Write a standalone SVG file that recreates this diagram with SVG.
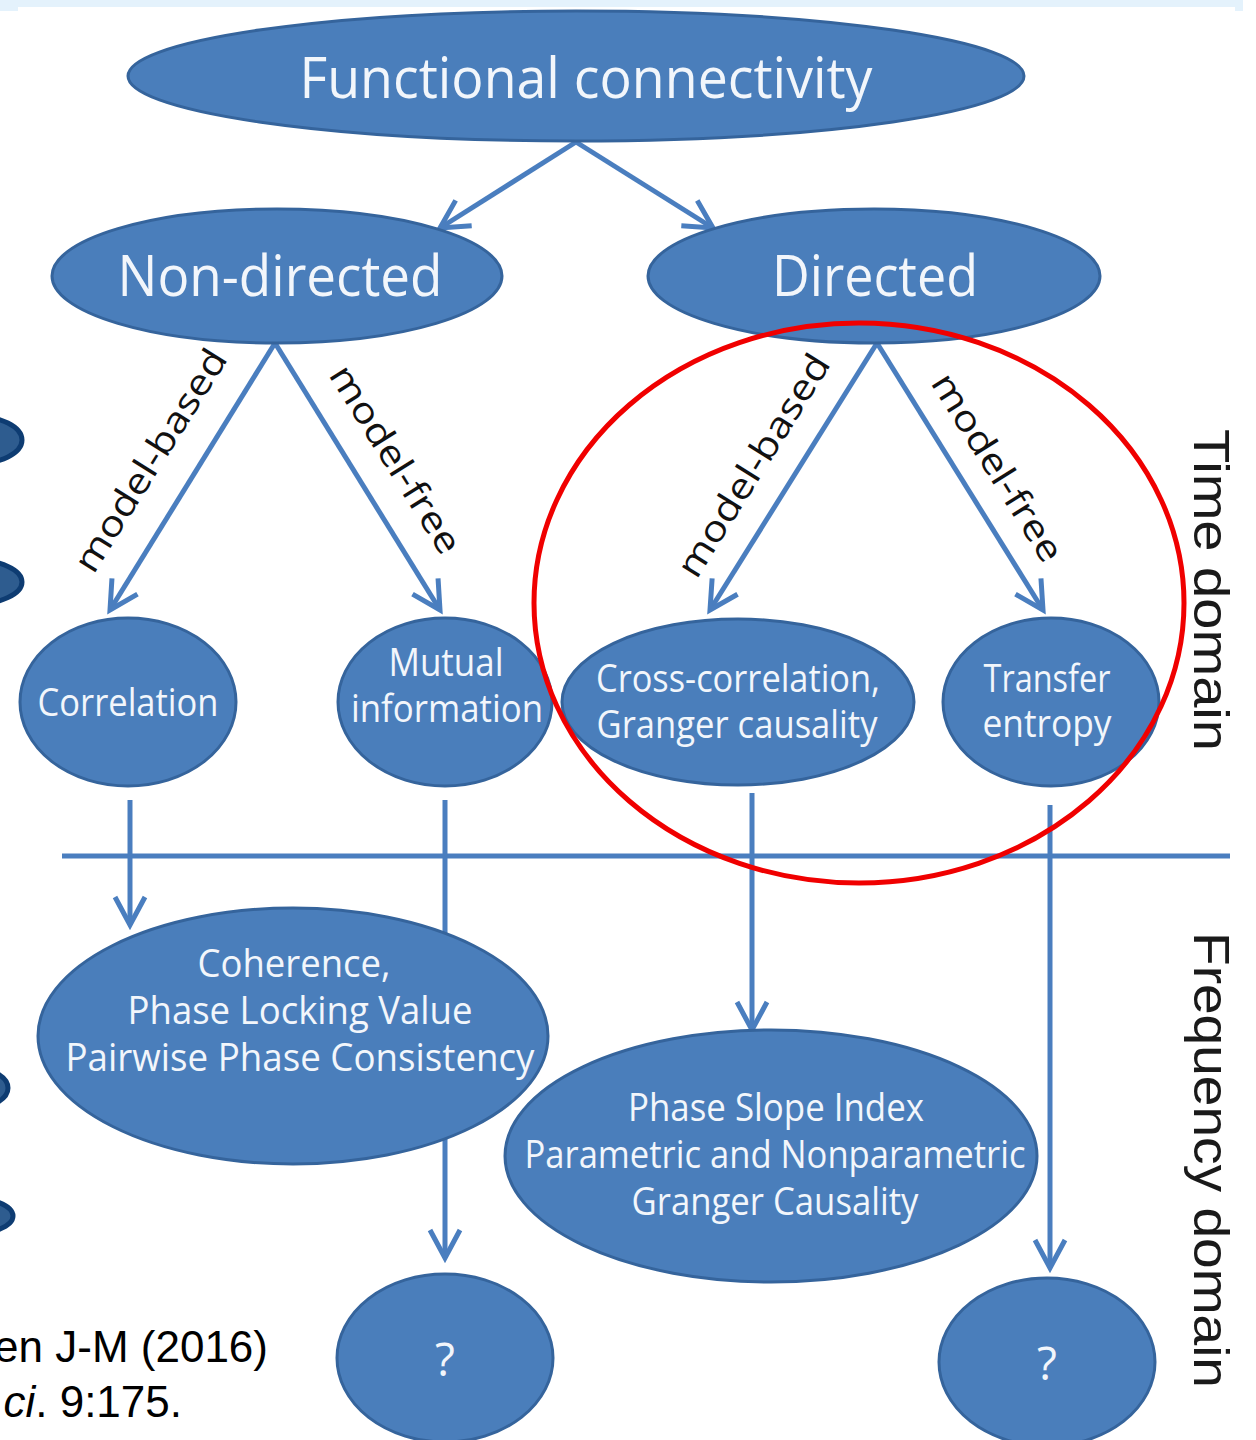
<svg xmlns="http://www.w3.org/2000/svg" width="1256" height="1440" viewBox="0 0 1256 1440">
  <style>
    .node { fill: #4A7EBB; stroke: #35649C; stroke-width: 3; }
    .lbl { font-family: "Open Sans", "Noto Sans", "DejaVu Sans", sans-serif; fill: #F2F6FB; text-anchor: middle; }
    .conn { stroke: #4A7EBF; stroke-width: 5; fill: none; }
    .edge-lbl { font-family: "Open Sans", "Noto Sans", sans-serif; font-size: 36px; fill: #111; text-anchor: middle; }
    .side { font-family: "Liberation Sans", "Arial", sans-serif; font-size: 50px; fill: #1a1a1a; text-anchor: middle; }
    .frag { fill: #2E5C8F; stroke: #0E3C72; stroke-width: 5; }
    .cite { font-family: "Liberation Sans", Arial, sans-serif; font-size: 44px; fill: #000; }
  </style>
  <defs>
    <marker id="arrow" markerUnits="userSpaceOnUse" viewBox="-34 -20 40 40" refX="0" refY="0" markerWidth="40" markerHeight="40" orient="auto">
      <path d="M-28,-15 L0,0 L-28,15" fill="none" stroke="#4A7EBF" stroke-width="5"/>
    </marker>
  </defs>

  <rect x="0" y="0" width="1256" height="1440" fill="#FFFFFF"/>
  <path d="M0,0 H1243 V11 H1235 V7 H18 V11 H0 Z" fill="#E4F2FC"/>

  <g id="left-fragments">
    <ellipse class="frag" cx="-26" cy="440" rx="48" ry="24"/>
    <ellipse class="frag" cx="-26" cy="582" rx="48" ry="22"/>
    <ellipse class="frag" cx="-40" cy="1088" rx="48" ry="23"/>
    <ellipse class="frag" cx="-35" cy="1216" rx="48" ry="19"/>
  </g>

  <g id="connectors">
    <line class="conn" x1="576" y1="142" x2="440" y2="228" marker-end="url(#arrow)"/>
    <line class="conn" x1="576" y1="142" x2="713" y2="228" marker-end="url(#arrow)"/>
    <line class="conn" x1="275" y1="343" x2="110" y2="610" marker-end="url(#arrow)"/>
    <line class="conn" x1="275" y1="343" x2="440" y2="610" marker-end="url(#arrow)"/>
    <line class="conn" x1="877" y1="343" x2="710" y2="610" marker-end="url(#arrow)"/>
    <line class="conn" x1="877" y1="343" x2="1043" y2="610" marker-end="url(#arrow)"/>
    <line class="conn" x1="62" y1="856" x2="1230" y2="856" stroke-width="4"/>
    <line class="conn" x1="130" y1="800" x2="130" y2="925" marker-end="url(#arrow)"/>
    <line class="conn" x1="445" y1="800" x2="445" y2="1258" marker-end="url(#arrow)"/>
    <line class="conn" x1="752" y1="793" x2="752" y2="1030" marker-end="url(#arrow)"/>
    <line class="conn" x1="1050" y1="805" x2="1050" y2="1268" marker-end="url(#arrow)"/>
    <text class="edge-lbl" transform="translate(161,467) rotate(-58)" textLength="255" lengthAdjust="spacingAndGlyphs">model-based</text>
    <text class="edge-lbl" transform="translate(385,466) rotate(58)" textLength="215" lengthAdjust="spacingAndGlyphs">model-free</text>
    <text class="edge-lbl" transform="translate(764,472) rotate(-58)" textLength="255" lengthAdjust="spacingAndGlyphs">model-based</text>
    <text class="edge-lbl" transform="translate(987,474) rotate(58)" textLength="215" lengthAdjust="spacingAndGlyphs">model-free</text>
  </g>

  <g id="functional-connectivity">
    <ellipse class="node" cx="576" cy="76" rx="448" ry="65"/>
    <text class="lbl" x="586" y="98" font-size="56" textLength="573" lengthAdjust="spacingAndGlyphs">Functional connectivity</text>
  </g>
  <g id="non-directed">
    <ellipse class="node" cx="277" cy="276" rx="225" ry="67"/>
    <text class="lbl" x="280" y="296" font-size="56" textLength="325" lengthAdjust="spacingAndGlyphs">Non-directed</text>
  </g>
  <g id="directed">
    <ellipse class="node" cx="874" cy="276" rx="226" ry="67"/>
    <text class="lbl" x="875" y="296" font-size="56" textLength="206" lengthAdjust="spacingAndGlyphs">Directed</text>
  </g>
  <g id="correlation">
    <ellipse class="node" cx="128" cy="702" rx="108" ry="84"/>
    <text class="lbl" x="128" y="716" font-size="38" textLength="181" lengthAdjust="spacingAndGlyphs">Correlation</text>
  </g>
  <g id="mutual-information">
    <ellipse class="node" cx="445" cy="702" rx="107" ry="84"/>
    <text class="lbl" x="446" y="676" font-size="38" textLength="115" lengthAdjust="spacingAndGlyphs">Mutual</text>
    <text class="lbl" x="447" y="722" font-size="38" textLength="192" lengthAdjust="spacingAndGlyphs">information</text>
  </g>
  <g id="cross-correlation">
    <ellipse class="node" cx="738" cy="702" rx="176" ry="83"/>
    <text class="lbl" x="738" y="692" font-size="38" textLength="284" lengthAdjust="spacingAndGlyphs">Cross-correlation,</text>
    <text class="lbl" x="737" y="738" font-size="38" textLength="281" lengthAdjust="spacingAndGlyphs">Granger causality</text>
  </g>
  <g id="transfer-entropy">
    <ellipse class="node" cx="1051" cy="702" rx="108" ry="84"/>
    <text class="lbl" x="1047" y="692" font-size="38" textLength="127" lengthAdjust="spacingAndGlyphs">Transfer</text>
    <text class="lbl" x="1047" y="737" font-size="38" textLength="129" lengthAdjust="spacingAndGlyphs">entropy</text>
  </g>
  <g id="coherence">
    <ellipse class="node" cx="293" cy="1036" rx="255" ry="128"/>
    <text class="lbl" x="294" y="977" font-size="38" textLength="193" lengthAdjust="spacingAndGlyphs">Coherence,</text>
    <text class="lbl" x="300" y="1024" font-size="38" textLength="345" lengthAdjust="spacingAndGlyphs">Phase Locking Value</text>
    <text class="lbl" x="300" y="1071" font-size="38" textLength="469" lengthAdjust="spacingAndGlyphs">Pairwise Phase Consistency</text>
  </g>
  <g id="phase-slope">
    <ellipse class="node" cx="771" cy="1156" rx="266" ry="126"/>
    <text class="lbl" x="776" y="1121" font-size="38" textLength="296" lengthAdjust="spacingAndGlyphs">Phase Slope Index</text>
    <text class="lbl" x="775" y="1168" font-size="38" textLength="501" lengthAdjust="spacingAndGlyphs">Parametric and Nonparametric</text>
    <text class="lbl" x="775" y="1215" font-size="38" textLength="287" lengthAdjust="spacingAndGlyphs">Granger Causality</text>
  </g>
  <g id="unknown-left">
    <ellipse class="node" cx="445" cy="1358" rx="108" ry="84"/>
    <text class="lbl" x="445" y="1376" font-size="46">?</text>
  </g>
  <g id="unknown-right">
    <ellipse class="node" cx="1047" cy="1362" rx="108" ry="84"/>
    <text class="lbl" x="1047" y="1380" font-size="46">?</text>
  </g>

  <g id="side-labels">
    <text class="side" transform="translate(1194,590) rotate(90)" textLength="322" lengthAdjust="spacingAndGlyphs">Time domain</text>
    <text class="side" transform="translate(1194,1160) rotate(90)" textLength="456" lengthAdjust="spacingAndGlyphs">Frequency domain</text>
  </g>

  <g id="highlight">
    <ellipse cx="859" cy="603" rx="325" ry="280" fill="none" stroke="#F00000" stroke-width="5"/>
  </g>

  <g id="citation">
    <text class="cite" x="268" y="1362" text-anchor="end">en J-M (2016)</text>
    <text class="cite" x="182" y="1417" text-anchor="end"><tspan font-style="italic">ci</tspan>. 9:175.</text>
  </g>
</svg>
